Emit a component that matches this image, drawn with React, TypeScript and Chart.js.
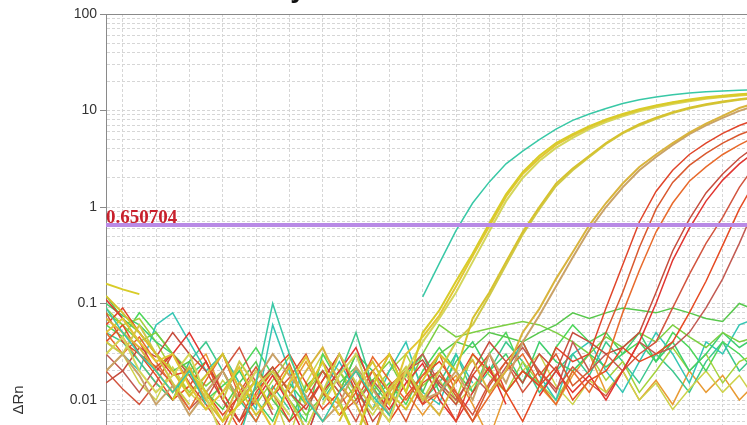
import React, { useEffect, useRef } from "react";
import { Chart, registerables } from "chart.js";

Chart.register(...registerables);

// ---------- data ----------
const cycles = [1, 2, 3, 4, 5, 6, 7, 8, 9, 10, 11, 12, 13, 14, 15, 16, 17, 18, 19, 20,
  21, 22, 23, 24, 25, 26, 27, 28, 29, 30, 31, 32, 33, 34, 35, 36, 37, 38, 39, 40];
const xTickValues = [2, 4, 6, 8, 10, 12, 14, 16, 18, 20, 22, 24, 26, 28, 30, 32, 34, 36, 38, 40];
const yDecades = [0.000001, 0.00001, 0.0001, 0.001, 0.01, 0.1, 1, 10, 100];
const yDecadeLabels = ["0.000001", "0.00001", "0.0001", "0.001", "0.01", "0.1", "1", "10", "100"];
const thresholdValue = 0.650704;
const titleText = "Cycle Threshold";
const yAxisTitle = "ΔRn";
const xAxisTitle = "Cycle";

const cyan1 = [0.09, 0.05, 0.03, 0.02, 0.012, 0.02, 0.009, null, 0.004, 0.015,
  0.1, 0.03, 0.01, 0.006, 0.012, 0.02, 0.011, 0.007, null, 0.117,
  0.26, 0.57, 1.1, 1.82, 2.8, 3.8, 5.0, 6.4, 7.9, 9.2,
  10.5, 11.8, 12.9, 13.8, 14.6, 15.2, 15.6, 15.9, 16.2, 16.4];
const yellow1 = [0.16, 0.14, 0.125, null, 0.01, 0.02, 0.012, 0.006, 0.009, 0.016,
  0.008, null, 0.012, 0.025, 0.009, 0.004, 0.014, 0.03, 0.012, 0.05,
  0.085, 0.17, 0.33, 0.68, 1.35, 2.3, 3.4, 4.6, 5.7, 6.9,
  8.1, 9.2, 10.3, 11.3, 12.2, 13.0, 13.7, 14.2, 14.7, 15.1];
const yellow2 = [0.05, 0.07, 0.04, 0.025, 0.03, 0.014, 0.008, 0.012, 0.022, 0.01,
  0.005, 0.015, 0.028, 0.013, 0.007, null, 0.02, 0.009, 0.03, 0.045,
  0.075, 0.15, 0.31, 0.63, 1.28, 2.2, 3.2, 4.4, 5.5, 6.7,
  7.9, 9.0, 10.1, 11.1, 12.0, 12.8, 13.5, 14.0, 14.5, 14.9];
const yellow2b = [0.03, 0.045, 0.02, 0.012, 0.018, 0.03, 0.011, 0.004, 0.01, 0.02,
  0.012, 0.007, null, 0.009, 0.018, 0.03, 0.01, 0.006, 0.02, 0.04,
  0.07, 0.13, 0.27, 0.56, 1.15, 2.0, 3.0, 4.1, 5.2, 6.4,
  7.6, 8.7, 9.8, 10.8, 11.7, 12.5, 13.2, 13.8, 14.3, 14.7];
const yellow3 = [0.12, 0.08, 0.05, 0.03, 0.02, 0.011, 0.018, 0.03, 0.013, 0.007,
  0.011, 0.022, 0.009, null, 0.006, 0.014, 0.025, 0.012, 0.008, 0.016,
  0.03, 0.02, 0.07, 0.13, 0.27, 0.55, 1.0, 1.75, 2.5, 3.4,
  4.6, 5.9, 7.2, 8.4, 9.6, 10.7, 11.6, 12.4, 13.1, 13.7];
const yellow3b = [0.04, 0.03, 0.06, 0.03, 0.015, 0.009, null, 0.01, 0.025, 0.014,
  0.02, 0.01, 0.005, 0.012, 0.03, 0.015, 0.008, 0.013, 0.022, 0.01,
  0.02, 0.04, 0.06, 0.12, 0.25, 0.52, 0.95, 1.65, 2.4, 3.3,
  4.5, 5.8, 7.0, 8.2, 9.4, 10.5, 11.4, 12.2, 12.9, 13.5];
const yellow4 = [0.07, 0.05, 0.035, 0.02, 0.012, 0.022, 0.01, 0.006, 0.015, 0.009,
  null, 0.011, 0.02, 0.035, 0.015, 0.009, 0.004, 0.012, 0.02, 0.011,
  0.007, 0.016, 0.026, 0.012, 0.02, 0.05, 0.088, 0.18, 0.34, 0.65,
  1.1, 1.75, 2.6, 3.5, 4.6, 5.9, 7.3, 8.8, 10.6, 12.0];
const yellow4b = [0.02, 0.03, 0.018, 0.009, 0.014, 0.007, 0.012, 0.02, 0.01, 0.016,
  0.03, 0.018, 0.011, 0.006, 0.009, 0.022, 0.013, 0.007, null, 0.01,
  0.012, 0.02, 0.01, 0.03, 0.015, 0.04, 0.075, 0.15, 0.3, 0.58,
  1.0, 1.6, 2.4, 3.3, 4.4, 5.7, 7.0, 8.4, 9.9, 11.3];
const red1 = [0.06, 0.09, 0.05, 0.03, 0.018, 0.02, 0.012, 0.007, 0.011, 0.02,
  0.012, 0.006, 0.009, 0.016, 0.03, 0.012, 0.004, 0.014, 0.02, 0.009,
  0.012, 0.006, 0.018, 0.03, 0.012, 0.02, 0.014, 0.035, 0.025, 0.03,
  0.09, 0.25, 0.7, 1.45, 2.4, 3.5, 4.6, 5.8, 7.0, 8.1];
const red2 = [0.08, 0.04, 0.03, 0.022, 0.03, 0.015, 0.009, 0.005, 0.012, 0.022,
  0.011, 0.017, 0.03, 0.012, 0.007, 0.01, 0.02, 0.012, 0.006, 0.015,
  0.02, 0.011, 0.006, 0.014, 0.025, 0.04, 0.018, 0.03, 0.014, 0.02,
  0.05, 0.13, 0.38, 0.95, 1.8, 2.7, 3.6, 4.6, 5.6, 6.5];
const red3 = [0.05, 0.03, 0.045, 0.025, 0.014, 0.008, 0.016, 0.03, 0.011, 0.006,
  0.013, 0.024, 0.009, null, 0.007, 0.012, 0.028, 0.016, 0.01, 0.018,
  0.03, 0.012, 0.006, 0.011, 0.02, 0.03, 0.015, 0.009, 0.02, 0.012,
  0.025, 0.08, 0.22, 0.55, 1.1, 1.85, 2.6, 3.5, 4.4, 5.4];
const red4 = [0.015, 0.02, 0.035, 0.028, 0.05, 0.03, 0.02, 0.01, 0.006, 0.014,
  0.022, 0.012, 0.008, 0.016, 0.03, 0.014, 0.006, 0.01, 0.02, 0.026,
  0.014, 0.009, 0.02, 0.04, 0.025, 0.015, 0.03, 0.02, 0.05, 0.04,
  0.03, 0.035, 0.05, 0.13, 0.35, 0.75, 1.4, 2.2, 3.2, 4.3];
const red5 = [0.11, 0.07, 0.04, 0.02, 0.03, 0.05, 0.025, 0.012, 0.006, 0.01,
  0.018, 0.009, 0.004, 0.012, 0.02, 0.035, 0.013, 0.008, 0.015, 0.024,
  0.01, 0.006, 0.012, 0.022, 0.009, null, 0.011, 0.02, 0.012, 0.018,
  0.01, 0.02, 0.04, 0.1, 0.28, 0.6, 1.15, 1.9, 2.8, 3.8];
const red6 = [0.02, 0.013, 0.009, 0.015, 0.03, 0.018, 0.01, 0.02, 0.035, 0.015,
  0.008, null, 0.01, 0.02, 0.012, 0.006, 0.014, 0.03, 0.016, 0.009,
  0.018, 0.012, 0.007, 0.015, 0.025, 0.012, 0.02, 0.013, 0.022, 0.015,
  0.011, 0.02, 0.03, 0.04, 0.09, 0.2, 0.42, 0.78, 1.6, 2.8];
const red7 = [0.04, 0.06, 0.03, 0.018, 0.01, 0.014, 0.025, 0.01, 0.005, 0.012,
  0.02, 0.03, 0.015, 0.008, 0.012, 0.02, 0.01, 0.006, 0.011, 0.018,
  0.025, 0.015, 0.03, 0.02, 0.012, 0.006, 0.014, 0.022, 0.01, 0.016,
  0.02, 0.035, 0.025, 0.03, 0.04, 0.08, 0.17, 0.4, 0.95, 1.9];
const red8 = [0.03, 0.02, 0.012, 0.022, 0.015, 0.008, 0.012, 0.02, 0.01, 0.016,
  0.007, null, 0.012, 0.025, 0.014, 0.009, 0.016, 0.01, 0.02, 0.03,
  0.015, 0.01, 0.018, 0.012, 0.022, 0.035, 0.02, 0.012, 0.04, 0.02,
  0.03, 0.02, 0.04, 0.03, 0.035, 0.05, 0.09, 0.18, 0.42, 1.05];
const green1 = [0.12, 0.07, 0.05, 0.03, 0.02, 0.025, 0.012, 0.008, 0.015, 0.025,
  0.01, 0.006, 0.014, 0.02, 0.012, 0.03, 0.015, 0.009, 0.02, 0.012,
  0.03, 0.04, 0.035, 0.05, 0.045, 0.04, 0.05, 0.06, 0.08, 0.07,
  0.08, 0.09, 0.085, 0.08, 0.09, 0.08, 0.07, 0.065, 0.1, 0.085];
const green2 = [0.08, 0.06, 0.04, 0.05, 0.03, 0.02, 0.014, 0.02, 0.009, 0.013,
  0.022, 0.012, 0.007, 0.011, 0.02, 0.01, 0.016, 0.025, 0.012, 0.03,
  0.06, 0.045, 0.05, 0.055, 0.06, 0.065, 0.06, 0.05, 0.04, 0.03,
  0.045, 0.035, 0.05, 0.04, 0.06, 0.045, 0.035, 0.05, 0.04, 0.045];
const green3 = [0.1, 0.075, 0.06, 0.04, 0.03, 0.018, 0.025, 0.012, 0.02, 0.01,
  0.006, 0.015, 0.009, null, 0.012, 0.03, 0.02, 0.01, 0.018, 0.03,
  0.012, 0.025, 0.04, 0.02, 0.03, 0.015, 0.04, 0.025, 0.02, 0.03,
  0.022, 0.03, 0.05, 0.025, 0.04, 0.02, 0.03, 0.05, 0.035, 0.045];
const cyan2 = [0.04, 0.03, 0.02, 0.06, 0.08, 0.04, 0.02, 0.03, 0.015, 0.008,
  0.06, 0.02, 0.004, 0.012, 0.025, 0.012, 0.008, 0.02, 0.04, 0.012,
  0.009, 0.03, 0.015, null, 0.02, 0.04, 0.018, 0.01, 0.03, 0.04,
  0.02, 0.012, 0.025, 0.05, 0.03, 0.015, 0.04, 0.03, 0.06, 0.07];
const yellowGreen5 = [0.09, 0.06, 0.07, 0.04, 0.02, 0.012, 0.018, 0.03, 0.015, 0.009,
  0.016, 0.028, 0.012, 0.02, 0.01, 0.004, 0.012, 0.02, 0.03, 0.014,
  0.02, 0.01, 0.03, 0.018, 0.012, 0.025, 0.015, 0.01, 0.02, 0.03,
  0.016, 0.025, 0.012, 0.02, 0.035, 0.02, 0.03, 0.015, 0.025, 0.03];
const green6 = [0.06, 0.045, 0.08, 0.05, 0.03, 0.02, 0.01, 0.014, 0.02, 0.035,
  0.018, 0.01, 0.006, 0.03, 0.015, 0.022, 0.01, 0.015, 0.009, 0.02,
  0.035, 0.02, 0.012, 0.03, 0.05, 0.02, 0.015, 0.035, 0.06, 0.04,
  0.05, 0.03, 0.04, 0.025, 0.05, 0.035, 0.02, 0.04, 0.03, 0.02];
const yellow7 = [0.02, 0.03, 0.015, 0.01, 0.022, 0.012, 0.008, 0.016, 0.01, 0.02,
  0.012, 0.004, 0.015, 0.03, 0.02, 0.012, 0.007, 0.013, 0.018, 0.01,
  0.016, 0.009, 0.014, 0.022, 0.012, 0.02, 0.03, 0.014, 0.009, 0.016,
  0.012, 0.02, 0.01, 0.015, 0.008, 0.013, 0.02, 0.012, 0.018, 0.01];
const teal8 = [0.05, 0.04, 0.025, 0.015, 0.01, 0.025, 0.04, 0.02, 0.01, 0.006,
  0.014, 0.008, null, 0.01, 0.018, 0.05, 0.014, 0.007, 0.02, 0.01,
  0.015, 0.03, 0.012, 0.02, 0.04, 0.025, 0.012, 0.02, 0.03, 0.018,
  0.04, 0.025, 0.015, 0.03, 0.02, 0.012, 0.025, 0.04, 0.02, 0.03];
const orange9 = [0.03, 0.045, 0.025, 0.015, 0.01, 0.02, 0.03, 0.012, 0.006, 0.011,
  0.02, 0.013, 0.025, 0.012, 0.009, 0.014, 0.02, 0.03, 0.012, 0.007,
  0.012, 0.018, 0.009, 0.004, 0.012, 0.02, 0.014, 0.009, 0.018, 0.03,
  0.012, 0.02, 0.01, 0.016, 0.009, 0.02, 0.012, 0.018, 0.01, 0.015];

const traces: { name: string; values: (number | null)[] }[] = [
  { name: "cyan1", values: cyan1 },
  { name: "yellow1", values: yellow1 },
  { name: "yellow2", values: yellow2 },
  { name: "yellow2b", values: yellow2b },
  { name: "yellow3", values: yellow3 },
  { name: "yellow3b", values: yellow3b },
  { name: "yellow4", values: yellow4 },
  { name: "yellow4b", values: yellow4b },
  { name: "red1", values: red1 },
  { name: "red2", values: red2 },
  { name: "red3", values: red3 },
  { name: "red4", values: red4 },
  { name: "red5", values: red5 },
  { name: "red6", values: red6 },
  { name: "red7", values: red7 },
  { name: "red8", values: red8 },
  { name: "green1", values: green1 },
  { name: "green2", values: green2 },
  { name: "green3", values: green3 },
  { name: "cyan2", values: cyan2 },
  { name: "yellowGreen5", values: yellowGreen5 },
  { name: "green6", values: green6 },
  { name: "yellow7", values: yellow7 },
  { name: "teal8", values: teal8 },
  { name: "orange9", values: orange9 },
];

// ---------- styles ----------
const traceColors: Record<string, string> = {
  cyan1: "#38c8a6", yellow1: "#d8cc28", yellow2: "#e2c634", yellow2b: "#d4d65a",
  yellow3: "#d6c22e", yellow3b: "#cfc948", yellow4: "#d9b43c", yellow4b: "#c9a268",
  red1: "#e0452a", red2: "#d9582e", red3: "#e86a2c", red4: "#c64c3c",
  red5: "#e13530", red6: "#d2543e", red7: "#e64a22", red8: "#c25a52",
  green1: "#58c84c", green2: "#7ccf42", green3: "#3fcf6c", cyan2: "#34c6b4",
  yellowGreen5: "#a4d23c", green6: "#4cd65a", yellow7: "#cdd24a", teal8: "#3cc78e",
  orange9: "#e89a32",
};
const thickTraces = ["yellow1", "yellow2", "yellow2b", "yellow3", "yellow3b", "yellow4", "yellow4b"];
const gridColor = "#d6d6d6";
const axisColor = "#8a8a8a";
const sansFont = "'Liberation Sans', Arial, sans-serif";

function isDecade(v: number) {
  const l = Math.log10(v);
  return Math.abs(l - Math.round(l)) < 1e-9;
}

const decorPlugin = {
  id: "decor",
  afterDatasetsDraw(chart: any) {
    const { ctx, chartArea, scales } = chart;
    const y = scales.y.getPixelForValue(thresholdValue);
    ctx.save();
    ctx.font = "bold 19px 'Liberation Serif', 'Times New Roman', serif";
    ctx.fillStyle = "#c8202c";
    ctx.textAlign = "left";
    ctx.textBaseline = "alphabetic";
    ctx.fillText(String(thresholdValue), chartArea.left, y - 2.5);
    ctx.restore();
  },
  afterDraw(chart: any) {
    const { ctx, chartArea } = chart;
    ctx.save();
    ctx.strokeStyle = axisColor;
    ctx.lineWidth = 1;
    ctx.setLineDash([]);
    ctx.beginPath();
    ctx.moveTo(chartArea.left, chartArea.top + 0.5);
    ctx.lineTo(chartArea.right, chartArea.top + 0.5);
    ctx.moveTo(chartArea.right - 0.5, chartArea.top);
    ctx.lineTo(chartArea.right - 0.5, chartArea.bottom);
    ctx.stroke();
    ctx.font = `bold 28px ${sansFont}`;
    ctx.fillStyle = "#111";
    ctx.textAlign = "center";
    ctx.textBaseline = "alphabetic";
    ctx.fillText(titleText, 379, -3);
    ctx.restore();
  },
};

export default function App() {
  const canvasRef = useRef<HTMLCanvasElement | null>(null);

  useEffect(() => {
    if (!canvasRef.current) return;
    const yTicks: number[] = [];
    yDecades.forEach((d) => {
      yTicks.push(d);
      if (d < 100) {
        for (let m = 2; m <= 9; m++) yTicks.push(d * m);
      }
    });

    const datasets: any[] = [
      {
        label: "Threshold",
        data: [
          { x: cycles[0], y: thresholdValue },
          { x: cycles[cycles.length - 1], y: thresholdValue },
        ],
        borderColor: "#b98ae6",
        borderWidth: 4,
        pointRadius: 0,
      },
      ...traces.map((t) => ({
        label: t.name,
        data: t.values.map((v, i) => ({ x: cycles[i], y: v })),
        borderColor: traceColors[t.name],
        borderWidth: thickTraces.includes(t.name) ? 2 : 1.5,
        pointRadius: 0,
        spanGaps: false,
      })),
    ];

    const chart = new Chart(canvasRef.current, {
      type: "line",
      data: { datasets },
      plugins: [decorPlugin],
      options: {
        animation: false,
        responsive: false,
        devicePixelRatio: 1,
        layout: { padding: { left: 0, top: 14, right: 44, bottom: 0 } },
        elements: { line: { tension: 0 }, point: { radius: 0 } },
        plugins: {
          legend: { display: false },
          tooltip: { enabled: false },
          title: { display: false },
        },
        scales: {
          x: {
            type: "linear",
            min: 1,
            max: 40,
            afterBuildTicks: (s: any) => {
              s.ticks = xTickValues.map((v) => ({ value: v }));
            },
            afterFit: (s: any) => {
              s.height = 54;
            },
            ticks: { autoSkip: false, color: "#333", font: { size: 14, family: sansFont } },
            grid: { color: gridColor, lineWidth: 1, tickLength: 6, tickColor: axisColor },
            border: { display: true, color: axisColor, width: 1, dash: [3, 2] },
            title: { display: true, text: xAxisTitle, color: "#333", font: { size: 15, family: sansFont } },
          },
          y: {
            type: "logarithmic",
            min: 0.000001,
            max: 100,
            afterBuildTicks: (s: any) => {
              s.ticks = yTicks.map((v) => ({ value: v, major: isDecade(v) }));
            },
            afterFit: (s: any) => {
              s.width = 106;
            },
            ticks: {
              autoSkip: false,
              padding: 3,
              color: "#333",
              font: { size: 14, family: sansFont },
              callback: (value: any) => {
                const v = Number(value);
                if (!isDecade(v)) return "";
                const idx = yDecades.findIndex((d) => Math.abs(Math.log10(d) - Math.log10(v)) < 1e-9);
                return idx >= 0 ? yDecadeLabels[idx] : "";
              },
            },
            grid: {
              color: gridColor,
              lineWidth: 1,
              tickLength: 6,
              tickColor: (c: any) => (c.tick && isDecade(c.tick.value) ? axisColor : "rgba(0,0,0,0)"),
            },
            border: { display: true, color: axisColor, width: 1, dash: [3, 2] },
            title: {
              display: true,
              text: yAxisTitle,
              color: "#333",
              font: { size: 15, family: sansFont },
              padding: { top: 10, bottom: 0 },
            },
          },
        },
      } as any,
    });
    return () => chart.destroy();
  }, []);

  return (
    <div
      style={{
        position: "fixed",
        left: 0,
        top: 0,
        width: 747,
        height: 425,
        overflow: "hidden",
        background: "#ffffff",
      }}
    >
      <canvas ref={canvasRef} width={800} height={840} style={{ display: "block" }} />
    </div>
  );
}
